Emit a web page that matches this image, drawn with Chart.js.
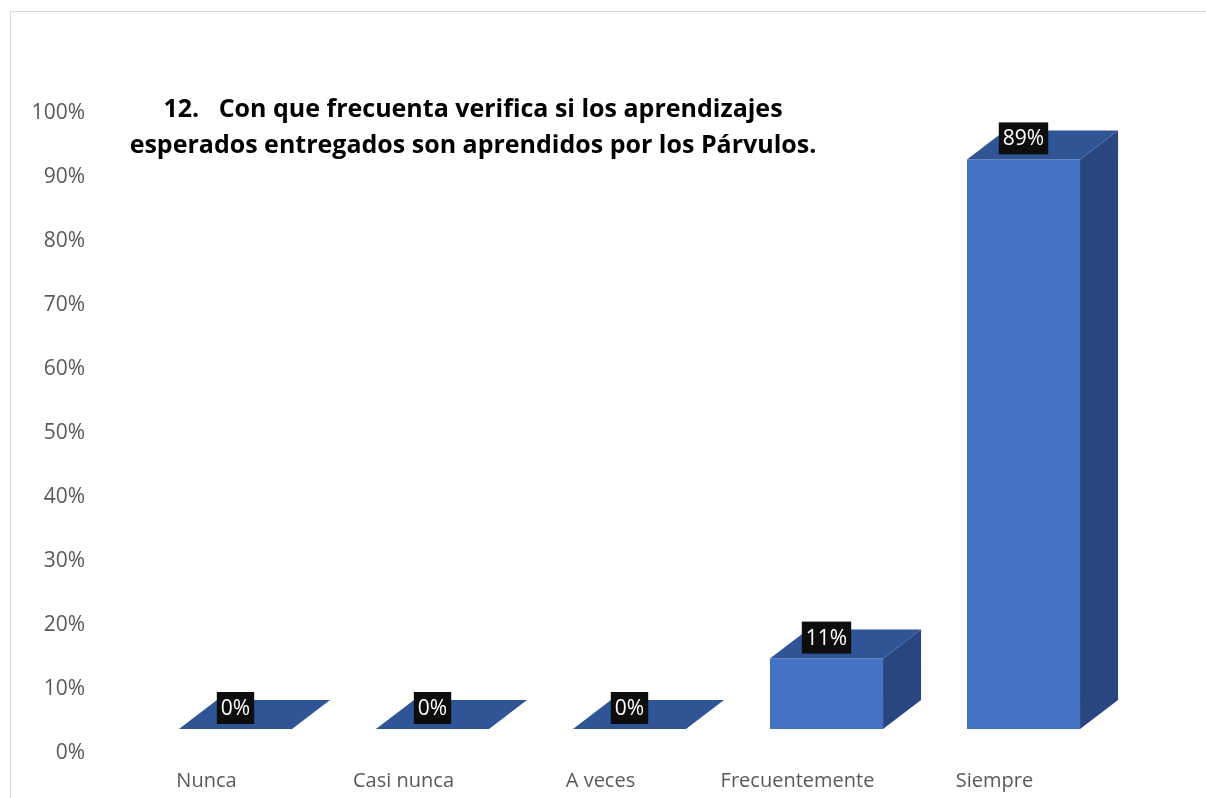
<!DOCTYPE html>
<html>
<head>
<meta charset="utf-8">
<script src="https://cdn.jsdelivr.net/npm/chart.js@4.4.1/dist/chart.umd.min.js"></script>
<style>
  html, body { margin: 0; padding: 0; background: #fff; }
  canvas { display: block; }
</style>
</head>
<body>
<canvas id="chart" width="1206" height="798"></canvas>
<script>
const categories = ['Nunca', 'Casi nunca', 'A veces', 'Frecuentemente', 'Siempre'];
const percentages = [0, 0, 0, 11, 89];
const titleLines = [
    '12.   Con que frecuenta verifica si los aprendizajes',
    'esperados entregados son aprendidos por los Párvulos.'
];

const FONT = '"Open Sans", "DejaVu Sans", sans-serif';
const frontColor = '#4472C4';
const topColor = '#2F5597';
const sideColor = '#2A4680';
const depthX = 38;
const depthY = -29;

// frame + title
const decorations = {
    id: 'decorations',
    beforeDraw(chart) {
        const ctx = chart.ctx;
        ctx.save();
        ctx.strokeStyle = '#d9d9d9';
        ctx.lineWidth = 1;
        ctx.strokeRect(10.5, 11.5, 1400, 1000);
        ctx.restore();
    },
    afterDraw(chart) {
        const ctx = chart.ctx;
        ctx.save();
        ctx.fillStyle = '#000';
        ctx.font = 'bold 25px ' + FONT;
        ctx.textAlign = 'center';
        ctx.textBaseline = 'middle';
        ctx.fillText(titleLines[0], 473, 110);
        ctx.fillText(titleLines[1], 473, 146);
        ctx.restore();
    }
};

// top and side faces drawn from each bar element
const faces3d = {
    id: 'faces3d',
    afterDatasetsDraw(chart) {
        const ctx = chart.ctx;
        const meta = chart.getDatasetMeta(0);
        meta.data.forEach((bar, i) => {
            const { x, y, base, width } = bar.getProps(['x', 'y', 'base', 'width'], true);
            const l = x - width / 2, r = x + width / 2;
            ctx.save();
            if (base - y > 0.5) {
                ctx.fillStyle = sideColor;
                ctx.beginPath();
                ctx.moveTo(r, y);
                ctx.lineTo(r + depthX, y + depthY);
                ctx.lineTo(r + depthX, base + depthY);
                ctx.lineTo(r, base);
                ctx.closePath();
                ctx.fill();
            }
            ctx.fillStyle = topColor;
            ctx.beginPath();
            ctx.moveTo(l, y);
            ctx.lineTo(r, y);
            ctx.lineTo(r + depthX, y + depthY);
            ctx.lineTo(l + depthX, y + depthY);
            ctx.closePath();
            ctx.fill();

            // value label
            const txt = percentages[i] + '%';
            ctx.font = '21px ' + FONT;
            const tw = ctx.measureText(txt).width;
            const cy = y - 21;
            ctx.fillStyle = '#0d0d0d';
            ctx.fillRect(x - tw / 2 - 4, cy - 16, tw + 8, 32);
            ctx.fillStyle = '#ffffff';
            ctx.textAlign = 'center';
            ctx.textBaseline = 'middle';
            ctx.fillText(txt, x, cy + 1);
            ctx.restore();
        });
    }
};

new Chart(document.getElementById('chart'), {
    type: 'bar',
    data: {
        labels: categories,
        datasets: [{
            data: percentages,
            backgroundColor: frontColor,
            borderWidth: 0,
            categoryPercentage: 1,
            barPercentage: 0.574
        }]
    },
    options: {
        responsive: false,
        animation: false,
        layout: { padding: { top: 89, right: 84, bottom: 6, left: 0 } },
        plugins: {
            legend: { display: false },
            tooltip: { enabled: false },
            title: { display: false }
        },
        scales: {
            x: {
                grid: { display: false, drawTicks: false },
                border: { display: false },
                afterFit(scale) { scale.height = 63; },
                ticks: {
                    color: '#595959',
                    font: { family: FONT, size: 20 },
                    padding: 40,
                    labelOffset: -29,
                    maxRotation: 0
                }
            },
            y: {
                min: 0,
                max: 100,
                grid: { display: false, drawTicks: false },
                border: { display: false },
                afterFit(scale) { scale.width = 137; },
                ticks: {
                    stepSize: 10,
                    color: '#595959',
                    font: { family: FONT, size: 21 },
                    padding: 52,
                    labelOffset: 24,
                    callback: v => v + '%'
                }
            }
        }
    },
    plugins: [decorations, faces3d]
});
</script>
</body>
</html>
